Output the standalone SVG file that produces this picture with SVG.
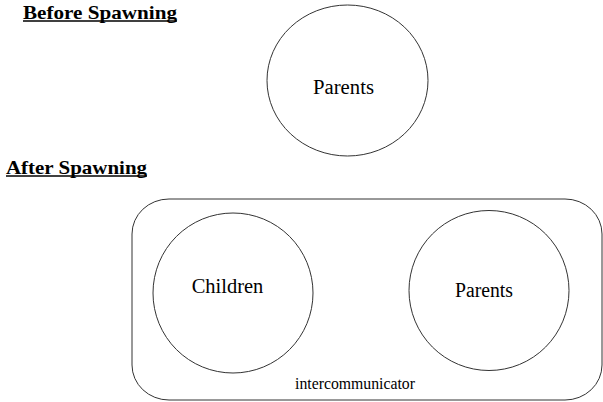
<svg xmlns="http://www.w3.org/2000/svg" width="603" height="402" viewBox="0 0 603 402">
<style>
.shape{fill:none;stroke:#333;stroke-width:1}
text{font-family:"Times New Roman",Times,Tinos,"Noto Serif",FreeSerif,"Liberation Serif","DejaVu Serif",serif;fill:#000}
.hdr{font-weight:bold;font-size:19px}
.lbl{font-size:20px}
.small{font-size:16px}
.ul{stroke:#000;stroke-width:1.5}
</style>
<rect width="603" height="402" fill="#fff"/>
<g id="header-before">
<text class="hdr" x="23" y="19" textLength="154" lengthAdjust="spacingAndGlyphs">Before Spawning</text>
<line class="ul" x1="23" y1="21" x2="177" y2="21"/>
</g>
<g id="header-after">
<text class="hdr" x="6" y="174" textLength="141" lengthAdjust="spacingAndGlyphs">After Spawning</text>
<line class="ul" x1="6" y1="176" x2="147" y2="176"/>
</g>
<g id="parents-before">
<ellipse class="shape" cx="347.5" cy="80.5" rx="80.5" ry="75.5"/>
<text class="lbl" x="343.5" y="94.3" text-anchor="middle" textLength="61" lengthAdjust="spacingAndGlyphs">Parents</text>
</g>
<g id="intercommunicator">
<rect class="shape" x="132" y="199" width="470" height="201" rx="37" ry="35"/>
<text class="small" x="295" y="389" textLength="120" lengthAdjust="spacingAndGlyphs">intercommunicator</text>
</g>
<g id="children">
<circle class="shape" cx="233" cy="293" r="80"/>
<text class="lbl" x="227.5" y="293.3" text-anchor="middle" textLength="71.6" lengthAdjust="spacingAndGlyphs">Children</text>
</g>
<g id="parents-after">
<circle class="shape" cx="489" cy="290.5" r="80"/>
<text class="lbl" x="484" y="296.7" text-anchor="middle" textLength="58" lengthAdjust="spacingAndGlyphs">Parents</text>
</g>
<g id="connectors"></g>
</svg>
